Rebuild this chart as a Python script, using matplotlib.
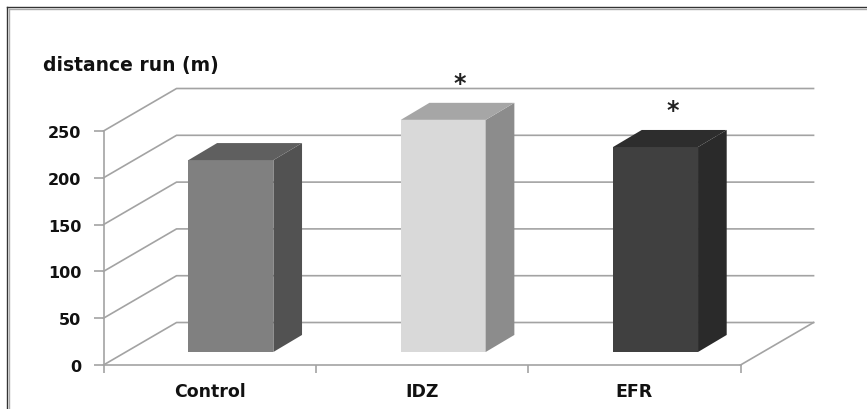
import matplotlib
matplotlib.use("Agg")
import matplotlib.pyplot as plt
from matplotlib.patches import Polygon

plt.rcParams['font.family'] = ['DejaVu Sans']

groups = ['Control', 'IDZ', 'EFR']
distance = [205, 248, 219]
front_colors = ['#808080', '#d9d9d9', '#404040']
side_colors = ['#525252', '#8c8c8c', '#2a2a2a']
top_colors = ['#5f5f5f', '#a6a6a6', '#2d2d2d']
y_ticks = [0, 50, 100, 150, 200, 250]
stars = [1, 2]

W, H = 867, 410
GRID = '#a3a3a3'

# fake 3d depth in data units
depth_x = 0.344
depth_y = 45.4
bar_w = 0.4
bar_off_x = 0.1
bar_off_y = 13.9
bar_dx = 0.135
bar_dy = 18.2

fig = plt.figure(figsize=(W / 100, H / 100), dpi=100)
ax = fig.add_axes([103.5 / W, 1 - 366 / H, 637 / W, 234 / H])
ax.set_xlim(0, 3)
ax.set_ylim(0, 250)
ax.patch.set_visible(False)

# walls and floor
for v in y_ticks:
    ax.plot([0, depth_x, 3 + depth_x], [v, v + depth_y, v + depth_y],
            color=GRID, lw=1.2, clip_on=False, zorder=1)
ax.plot([3, 3 + depth_x], [0, depth_y], color=GRID, lw=1.2, clip_on=False, zorder=1)

# bars
for i, val in enumerate(distance):
    x0 = i + 0.5 + bar_off_x - bar_w / 2
    x1 = x0 + bar_w
    y0 = bar_off_y
    y1 = y0 + val
    ax.bar(x0, val, width=bar_w, bottom=y0, align='edge', color=front_colors[i],
           clip_on=False, zorder=3)
    ax.add_patch(Polygon([(x1, y0), (x1 + bar_dx, y0 + bar_dy), (x1 + bar_dx, y1 + bar_dy), (x1, y1)],
                         facecolor=side_colors[i], clip_on=False, zorder=3))
    ax.add_patch(Polygon([(x0, y1), (x0 + bar_dx, y1 + bar_dy), (x1 + bar_dx, y1 + bar_dy), (x1, y1)],
                         facecolor=top_colors[i], clip_on=False, zorder=3))

# significance marks
for i in stars:
    ax.text(i + 0.5 + bar_off_x + 0.08, distance[i] + bar_off_y + bar_dy + 21, '*',
            fontsize=17, fontweight='bold', color='#222222', ha='center', va='center', clip_on=False)

for s in ['top', 'right']:
    ax.spines[s].set_visible(False)
for s in ['left', 'bottom']:
    ax.spines[s].set_color(GRID)
    ax.spines[s].set_linewidth(1.2)

ax.set_yticks(y_ticks)
ax.set_xticks([0, 1, 2, 3])
ax.set_xticklabels([])
ax.set_xticks([0.5, 1.5, 2.5], labels=groups, minor=True)
ax.tick_params(axis='y', length=7, width=1.2, color=GRID, pad=9, labelsize=11.5, labelcolor='#111111')
ax.tick_params(axis='x', which='major', length=6, width=1.2, color=GRID)
ax.tick_params(axis='x', which='minor', length=0, pad=12, labelsize=12.5, labelcolor='#111111')
for lab in ax.get_yticklabels() + ax.get_xticklabels(minor=True):
    lab.set_fontweight('bold')

fig.text(43 / W, 1 - 66 / H, 'distance run (m)', fontsize=13.5, fontweight='bold',
         color='#111111', ha='left', va='center')

# picture frame
fig.add_artist(plt.Line2D([7 / W, 7 / W], [0, 1 - 8 / H], color='#333333', lw=1.0))
fig.add_artist(plt.Line2D([9 / W, 9 / W], [0, 1 - 10 / H], color='#aaaaaa', lw=1.0))
fig.add_artist(plt.Line2D([7 / W, 1], [1 - 8 / H, 1 - 8 / H], color='#333333', lw=1.0))
fig.add_artist(plt.Line2D([9 / W, 1], [1 - 10 / H, 1 - 10 / H], color='#aaaaaa', lw=1.0))

fig.savefig('out.png', dpi=100)
